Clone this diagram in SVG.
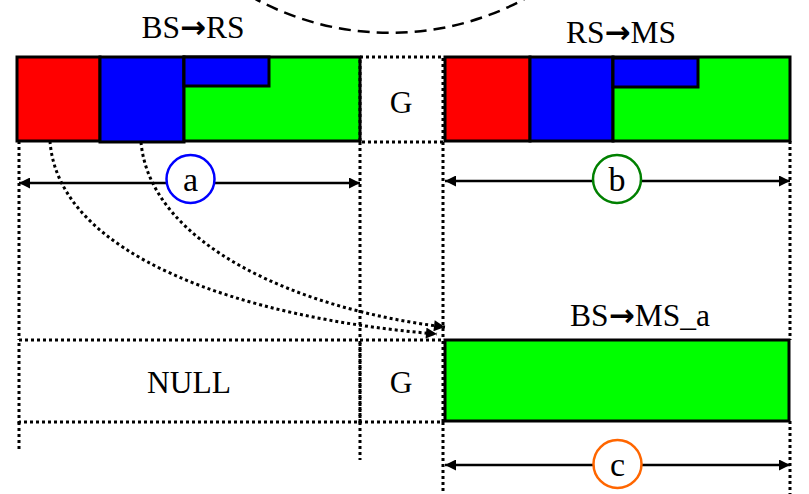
<svg xmlns="http://www.w3.org/2000/svg" width="809" height="494" viewBox="0 0 809 494">
<style>
.t{font-family:"Liberation Serif","Times New Roman",serif;font-size:31.5px;fill:#000;text-anchor:middle}
.ar{font-family:"DejaVu Sans",sans-serif;font-weight:bold;font-size:31px}
.lbl{font-size:34px}
.blk{stroke:#000;stroke-width:3}
.dot{fill:none;stroke:#000;stroke-width:3;stroke-dasharray:3 3}
.dim{stroke:#000;stroke-width:2.5;fill:none}
.circ{fill:#fff;stroke-width:2.5}
</style>
<defs>
<marker id="ah" viewBox="0 0 10 10" refX="10" refY="5" markerWidth="13" markerHeight="11" markerUnits="userSpaceOnUse" orient="auto-start-reverse">
<path d="M0,0 L10,5 L0,10 z" fill="#000"/>
</marker>
</defs>
<rect width="809" height="494" fill="#fff"/>
<g id="connectors">
<path d="M250,-4 A284.5,284.5 0 0 0 530,-4" fill="none" stroke="#000" stroke-width="2.5" stroke-dasharray="12 7"/>
<line class="dot" x1="19" y1="141" x2="19" y2="340"/>
<line class="dot" x1="19" y1="422" x2="19" y2="452"/>
<line class="dot" x1="360" y1="142" x2="360" y2="340"/>
<line class="dot" x1="360" y1="422" x2="360" y2="460"/>
<line class="dot" x1="443" y1="142" x2="443" y2="340"/>
<line class="dot" x1="443" y1="422" x2="443" y2="494"/>
<line class="dot" x1="790" y1="141" x2="790" y2="340"/>
<line class="dot" x1="790" y1="421" x2="790" y2="494"/>
<path class="dot" d="M50,141 C58,255 240,318 437,334" marker-end="url(#ah)"/>
<path class="dot" d="M141,142 C150,245 300,310 445,327" marker-end="url(#ah)"/>
<line class="dim" x1="19" y1="183" x2="360" y2="183" marker-start="url(#ah)" marker-end="url(#ah)"/>
<line class="dim" x1="445" y1="181" x2="790" y2="181" marker-start="url(#ah)" marker-end="url(#ah)"/>
<line class="dim" x1="445" y1="465" x2="790" y2="465" marker-start="url(#ah)" marker-end="url(#ah)"/>
</g>
<g id="bs-rs">
<rect x="17" y="57" width="83" height="84" fill="#ff0000" class="blk"/>
<rect x="100" y="57" width="84" height="85" fill="#0000ff" class="blk"/>
<rect x="184" y="57" width="176" height="84" fill="#00ff00" class="blk"/>
<rect x="184" y="57" width="85" height="29" fill="#0000ff" class="blk"/>
<text class="t" x="193" y="38">BS<tspan class="ar">→</tspan>RS</text>
</g>
<g id="g-top">
<rect class="dot" x="360" y="57" width="83" height="85"/>
<text class="t" x="401" y="113">G</text>
</g>
<g id="rs-ms">
<rect x="445" y="57" width="85" height="84" fill="#ff0000" class="blk"/>
<rect x="530" y="57" width="83" height="84" fill="#0000ff" class="blk"/>
<rect x="613" y="57" width="177" height="84" fill="#00ff00" class="blk"/>
<rect x="613" y="58" width="85" height="29" fill="#0000ff" class="blk"/>
<text class="t" x="621" y="43">RS<tspan class="ar">→</tspan>MS</text>
</g>
<g id="null">
<rect class="dot" x="19" y="340" width="341" height="82"/>
<text class="t" x="189" y="393">NULL</text>
</g>
<g id="g-bottom">
<rect class="dot" x="360" y="340" width="83" height="82"/>
<text class="t" x="401" y="393">G</text>
</g>
<g id="bs-ms-a">
<rect x="445" y="340" width="344" height="81" fill="#00ff00" class="blk"/>
<text class="t" x="640" y="326">BS<tspan class="ar">→</tspan>MS_a</text>
</g>
<g id="label-a">
<circle class="circ" cx="190.5" cy="179" r="24" stroke="#0000ff"/>
<text class="t lbl" x="190.5" y="191">a</text>
</g>
<g id="label-b">
<circle class="circ" cx="617" cy="179" r="24" stroke="#008000"/>
<text class="t lbl" x="617" y="191">b</text>
</g>
<g id="label-c">
<circle class="circ" cx="617.5" cy="464" r="24" stroke="#ff6600"/>
<text class="t lbl" x="617.5" y="476">c</text>
</g>
</svg>
